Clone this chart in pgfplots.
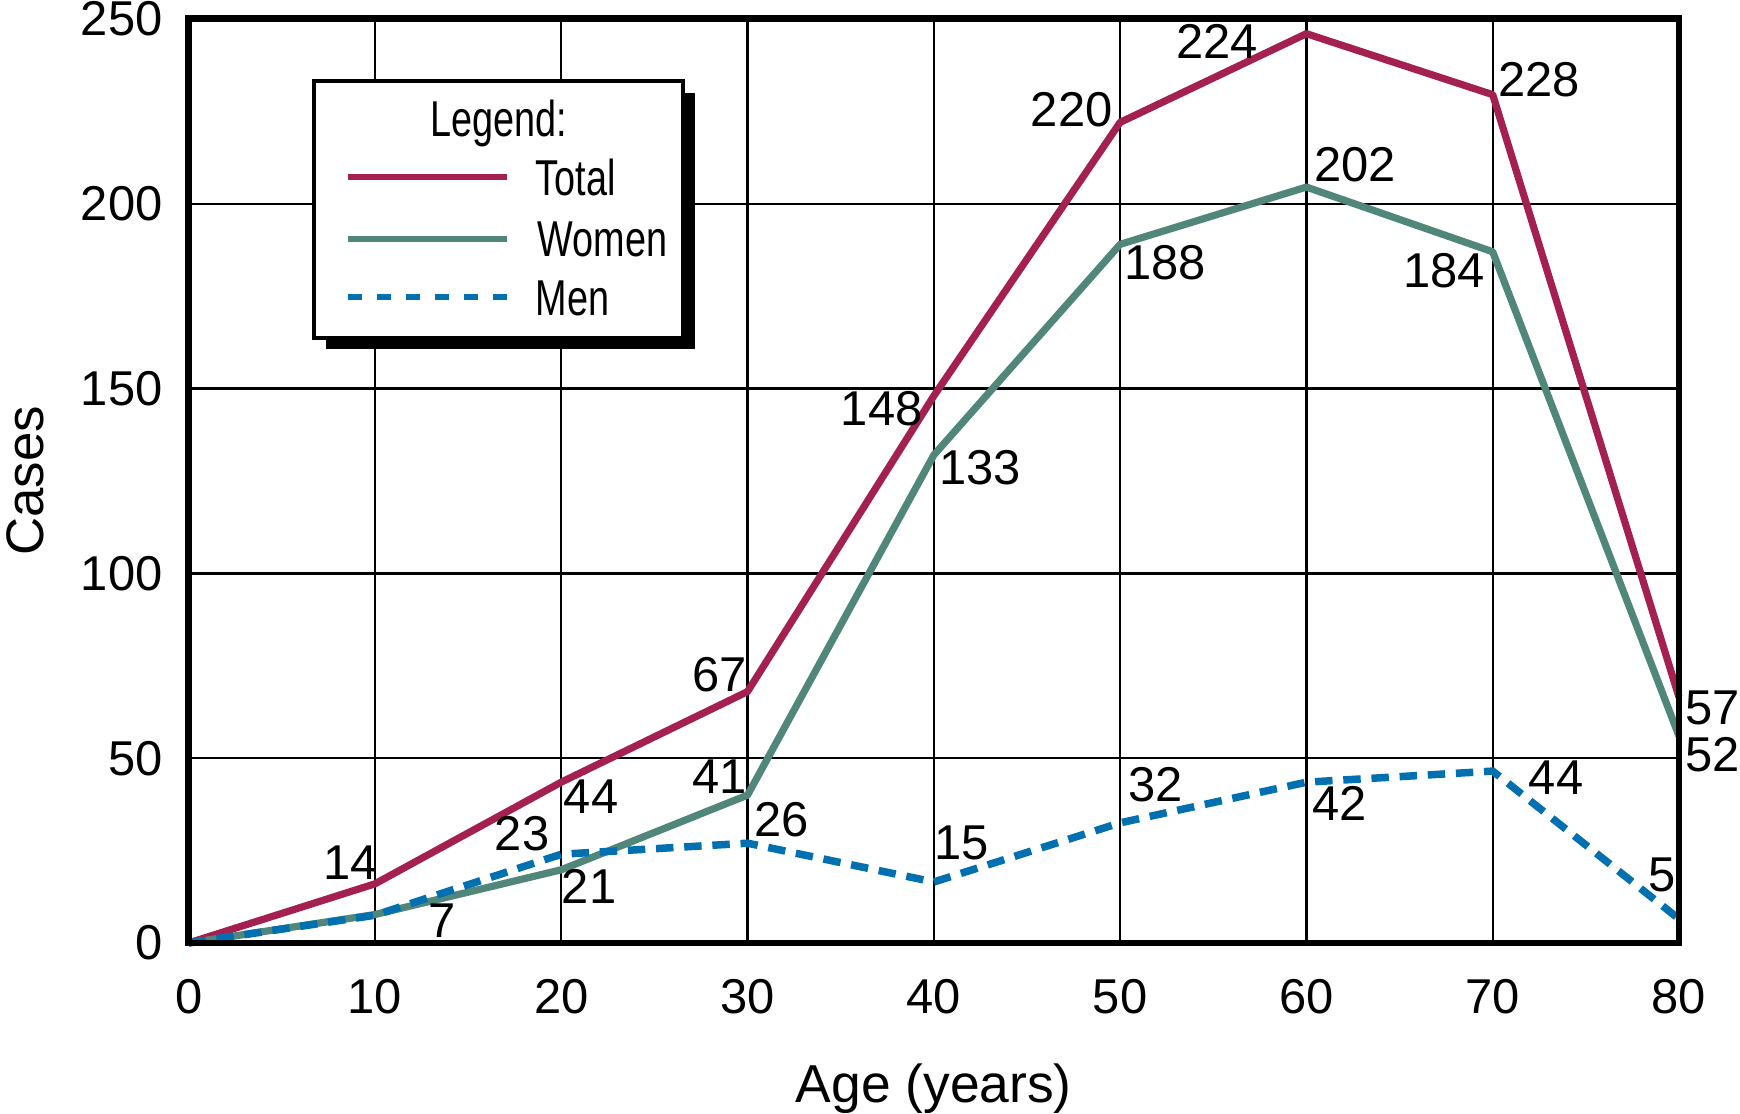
\documentclass[border=0pt]{standalone}
\usepackage{fontspec}
\setmainfont{Liberation Sans}
\newfontfamily\condfont[FakeStretch=0.75]{Liberation Sans}
\usepackage{pgfplots}
\pgfplotsset{compat=1.18}
\definecolor{totalc}{RGB}{163,32,80}
\definecolor{womenc}{RGB}{80,135,122}
\definecolor{menc}{RGB}{0,112,176}
\newcommand{\lbl}{\fontsize{16.3}{18}\selectfont}
\newcommand{\leg}{\condfont\fontsize{16.8}{18}\selectfont}

\pgfplotstableread{
x total women men
0 0 0 0
10 16 7.7 7.5
20 43.5 19.8 24
30 68 40 27
40 148 132 16.5
50 222 189 32.5
60 246 204.5 43.5
70 229.5 187 46.5
80 66.5 56 6.5
}\datatable

\begin{document}
\begin{tikzpicture}
\begin{axis}[
  at={(0,0)}, anchor=south west,
  scale only axis, width=496.8pt, height=308.03pt,
  xmin=0, xmax=80, ymin=0, ymax=250,
  xtick={0,10,...,80}, ytick={0,50,...,250},
  grid=major, grid style={black, line width=0.8pt},
  major tick length=0pt,
  axis line style={line width=2.3pt, black},
  /pgf/number format/assume math mode=true,
  tick label style={font=\lbl},
  xticklabel style={anchor=north, inner sep=0pt, yshift=-12pt},
  yticklabel style={anchor=east, inner sep=0pt, xshift=-8.5pt},
  xlabel={Age (years)}, ylabel={Cases},
  xlabel style={at={(axis description cs:0.5,-0.1728)}, anchor=base, inner sep=0pt, font=\fontsize{17.8}{20}\selectfont},
  ylabel style={at={(axis description cs:-0.0976,0.5)}, anchor=base, inner sep=0pt, font=\fontsize{17.6}{20}\selectfont},
  clip=false,
]
\addplot[totalc, line width=2.4pt, line join=round] table[x=x, y=total] {\datatable};
\addplot[womenc, line width=2.4pt, line join=round] table[x=x, y=women] {\datatable};
\addplot[menc, line width=2.5pt, dash pattern=on 5.8pt off 3.6pt] table[x=x, y=men] {\datatable};

% data labels (Total)
\node[font=\lbl, inner sep=0pt] at (axis cs:8.7,21.8) {14};
\node[font=\lbl, inner sep=0pt] at (axis cs:21.6,39.5) {44};
\node[font=\lbl, inner sep=0pt] at (axis cs:28.5,72.5) {67};
\node[font=\lbl, inner sep=0pt] at (axis cs:37.2,144.5) {148};
\node[font=\lbl, inner sep=0pt] at (axis cs:47.4,225.5) {220};
\node[font=\lbl, inner sep=0pt] at (axis cs:55.2,243.8) {224};
\node[font=\lbl, inner sep=0pt] at (axis cs:72.5,233.5) {228};
\node[font=\lbl, inner sep=0pt] at (axis cs:81.8,63.5) {57};
% Women
\node[font=\lbl, inner sep=0pt] at (axis cs:13.6,6) {7};
\node[font=\lbl, inner sep=0pt] at (axis cs:21.5,15.2) {21};
\node[font=\lbl, inner sep=0pt] at (axis cs:28.5,44.9) {41};
\node[font=\lbl, inner sep=0pt] at (axis cs:42.5,128.7) {133};
\node[font=\lbl, inner sep=0pt] at (axis cs:52.4,184) {188};
\node[font=\lbl, inner sep=0pt] at (axis cs:62.6,210.5) {202};
\node[font=\lbl, inner sep=0pt] at (axis cs:67.4,182) {184};
\node[font=\lbl, inner sep=0pt] at (axis cs:81.8,51) {52};
% Men
\node[font=\lbl, inner sep=0pt] at (axis cs:17.9,29.6) {23};
\node[font=\lbl, inner sep=0pt] at (axis cs:31.85,33.3) {26};
\node[font=\lbl, inner sep=0pt] at (axis cs:41.5,27) {15};
\node[font=\lbl, inner sep=0pt] at (axis cs:51.9,42.7) {32};
\node[font=\lbl, inner sep=0pt] at (axis cs:61.8,37.8) {42};
\node[font=\lbl, inner sep=0pt] at (axis cs:73.4,44.8) {44};
\node[font=\lbl, inner sep=0pt] at (axis cs:79.1,18.4) {5};

\draw[black, line width=2.3pt] (rel axis cs:0,0) rectangle (rel axis cs:1,1);
\end{axis}

% legend
\fill[black] (45.8pt,198pt) rectangle (168.8pt,283.4pt);
\draw[line width=1.3pt, fill=white] (41.8pt,201.8pt) rectangle (164.8pt,287.4pt);
\draw[totalc, line width=2.2pt] (53.1pt,255.3pt) -- (106.1pt,255.3pt);
\draw[womenc, line width=2.2pt] (53.1pt,234.7pt) -- (106.1pt,234.7pt);
\draw[menc, line width=2.2pt, dash pattern=on 4.67pt off 5pt] (53.1pt,215.3pt) -- (106.1pt,215.3pt);
\node[anchor=base, inner sep=0pt, font=\leg] at (103.3pt,268.7pt) {Legend:};
\node[anchor=base west, inner sep=0pt, font=\leg] at (115.5pt,249pt) {Total};
\node[anchor=base west, inner sep=0pt, font=\leg] at (116.1pt,228.7pt) {Women};
\node[anchor=base west, inner sep=0pt, font=\leg] at (115.5pt,209.3pt) {Men};

\pgfresetboundingbox
\useasboundingbox (-62.87pt,-57pt) rectangle (517.13pt,314.33pt);
\end{tikzpicture}
\end{document}
